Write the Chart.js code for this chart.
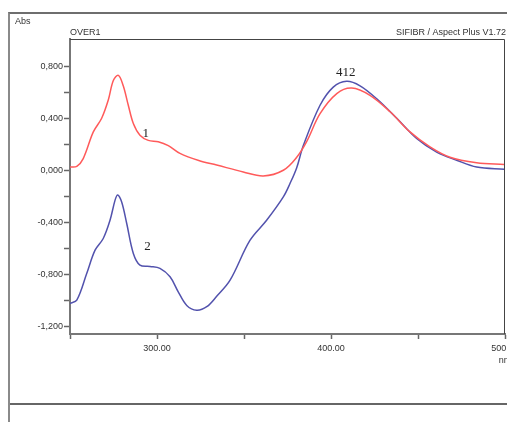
<!DOCTYPE html>
<html>
<head>
<meta charset="utf-8">
<script src="https://cdn.jsdelivr.net/npm/chart.js@4/dist/chart.umd.min.js"></script>
<style>
  html, body { margin: 0; padding: 0; background: #fff; }
  #wrap { position: relative; width: 507px; height: 422px; overflow: hidden; }
  #frame {
    position: absolute; left: 8px; top: 12px; width: 520px; height: 389px;
    border-left: 2px solid #8a8a8a; border-top: 2px solid #6e6e6e; border-bottom: 2px solid #666;
  }
  #frame2 { position: absolute; left: 8px; top: 403px; width: 2px; height: 30px; background: #8a8a8a; }
  canvas { position: absolute; left: 0; top: 0; }
</style>
</head>
<body>
<div id="wrap">
  <div id="frame"></div>
  <div id="frame2"></div>
  <canvas id="the-graph" width="507" height="422"></canvas>
</div>
<script>
// wavelengths (nm) and absorbance
var nm1  = [250, 253.9, 257.6, 263.4, 268.2, 272, 274.9, 277.8, 280.6, 283.5, 286.4, 290.2, 295, 300.7, 306.5, 313.2,
            324, 334.3, 349.6, 361.1, 372.6, 380.3, 386, 393.7, 403.3, 411.9, 422.4, 434, 445.4, 456.9, 468.4, 483.7, 499.5];
var abs1 = [0.025, 0.03, 0.09, 0.295, 0.40, 0.54, 0.69, 0.73, 0.65, 0.50, 0.36, 0.27, 0.23, 0.22, 0.19, 0.13,
            0.075, 0.04, -0.013, -0.044, 0.0, 0.1, 0.22, 0.435, 0.59, 0.633, 0.577, 0.45, 0.295, 0.18, 0.10, 0.058, 0.044];

var nm2  = [250, 253.9, 259.6, 264.4, 269.1, 273, 275.9, 277.4, 279.7, 282.6, 286.4, 290.2, 296, 301.7, 307.5, 312.2,
            317.1, 322.8, 328.6, 334.3, 342, 353.4, 363, 372.6, 376.5, 380.3, 384.1, 393.7, 401.3, 409, 416.7, 426.3,
            437.8, 449.2, 460.7, 472.2, 483.7, 499.5];
var abs2 = [-1.025, -1.0, -0.795, -0.615, -0.525, -0.385, -0.23, -0.19, -0.245, -0.41, -0.64, -0.73, -0.74, -0.755, -0.82, -0.935,
            -1.04, -1.077, -1.05, -0.97, -0.846, -0.54, -0.385, -0.205, -0.1, 0.02, 0.19, 0.5, 0.64, 0.685, 0.65, 0.55,
            0.40, 0.245, 0.14, 0.077, 0.025, 0.008];

var yTicks = [-1.2, -1.0, -0.8, -0.6, -0.4, -0.2, 0, 0.2, 0.4, 0.6, 0.8];
var xTicks = [250, 300, 350, 400, 450, 500];

// peak notes: text, nm, abs
var notes = [['1', 293.5, 0.28], ['2', 294.5, -0.59], ['412', 408.5, 0.755]];

function pts(xs, ys) {
  return xs.map(function (x, i) { return { x: x, y: ys[i] }; });
}

var sans = '"Liberation Sans", Arial, sans-serif';

var extras = {
  id: 'extras',
  afterDraw: function (chart) {
    var c = chart.ctx, a = chart.chartArea,
        sx = chart.scales.x, sy = chart.scales.y;
    c.save();
    // top and right sides of the plot box
    c.strokeStyle = '#444';
    c.lineWidth = 1;
    c.beginPath();
    c.moveTo(a.left, a.top + 0.5);
    c.lineTo(a.right - 0.5, a.top + 0.5);
    c.lineTo(a.right - 0.5, a.bottom);
    c.stroke();

    c.fillStyle = '#333';
    c.font = '9px ' + sans;
    c.textBaseline = 'middle';
    c.textAlign = 'left';
    c.fillText('Abs', 15, 22);
    c.fillText('OVER1', 70, 33);
    c.textAlign = 'right';
    c.fillText('SIFIBR / Aspect Plus V1.72', 506, 33);
    c.textAlign = 'center';
    c.fillText('nm', sx.getPixelForValue(500), 361);

    c.font = '13px "Liberation Serif", "Times New Roman", serif';
    c.fillStyle = '#222';
    notes.forEach(function (n) {
      c.fillText(n[0], sx.getPixelForValue(n[1]), sy.getPixelForValue(n[2]));
    });
    c.restore();
  }
};

var chart = new Chart(document.getElementById('the-graph'), {
  type: 'scatter',
  data: {
    datasets: [
      { data: pts(nm1, abs1), showLine: true, borderColor: '#ff5a5a', borderWidth: 1.5,
        pointRadius: 0, tension: 0.35 },
      { data: pts(nm2, abs2), showLine: true, borderColor: '#5252ad', borderWidth: 1.5,
        pointRadius: 0, tension: 0.35 }
    ]
  },
  options: {
    responsive: false,
    animation: false,
    layout: { padding: { left: 0, right: 2, top: 39, bottom: 0 } },
    plugins: { legend: { display: false }, tooltip: { enabled: false } },
    scales: {
      x: {
        type: 'linear', min: 250, max: 500,
        afterBuildTicks: function (s) { s.ticks = xTicks.map(function (v) { return { value: v }; }); },
        afterFit: function (s) { s.height = 88; s.paddingLeft = 0; s.paddingRight = 0; },
        grid: { drawOnChartArea: false, tickLength: 5, color: '#666', tickWidth: 1.5 },
        border: { color: '#777', width: 2 },
        ticks: {
          maxRotation: 0, autoSkip: false, padding: 4, color: '#333',
          font: { family: sans, size: 9 },
          callback: function (v) { return v % 100 === 0 ? v.toFixed(2) : ''; }
        }
      },
      y: {
        min: -1.26, max: 1.01,
        afterBuildTicks: function (s) { s.ticks = yTicks.map(function (v) { return { value: v }; }); },
        afterFit: function (s) { s.width = 70; s.paddingTop = 0; s.paddingBottom = 0; },
        grid: { drawOnChartArea: false, tickLength: 6, color: '#666', tickWidth: 1.5 },
        border: { color: '#777', width: 2 },
        ticks: {
          autoSkip: false, padding: 1, color: '#333',
          font: { family: sans, size: 9 },
          callback: function (v) {
            var r = Math.round(v * 10);
            if (r % 4 !== 0) return '';
            return (v < 0 ? '-' : '') + Math.abs(v).toFixed(3).replace('.', ',');
          }
        }
      }
    }
  },
  plugins: [extras]
});
</script>
</body>
</html>
